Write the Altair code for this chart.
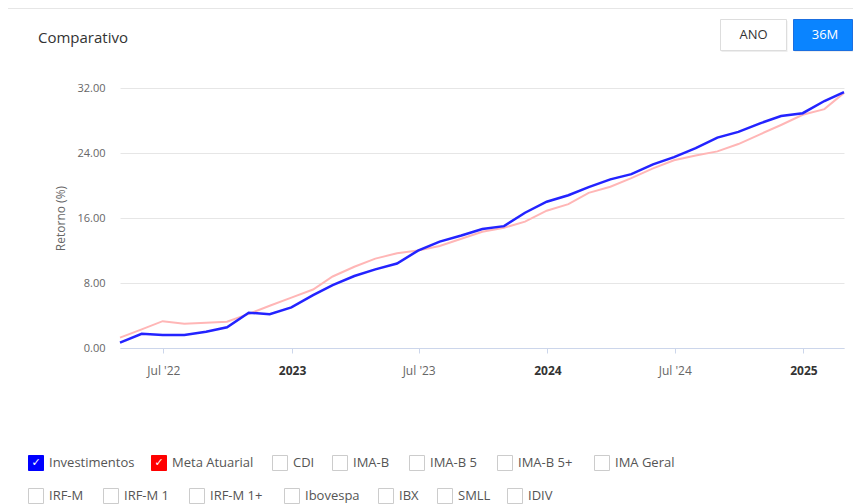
import altair as alt
import pandas as pd

# ---------------- data ----------------
months = pd.date_range("2022-05-01", periods=35, freq="MS") - pd.Timedelta(days=1)

investimentos = [0.65, 1.75, 1.60, 1.60, 2.00, 2.55, 4.35, 4.15, 5.00, 6.50,
                 7.75, 8.86, 9.68, 10.40, 11.98, 13.10, 13.85, 14.65, 15.00, 16.65,
                 18.00, 18.80, 19.80, 20.75, 21.40, 22.60, 23.50, 24.60, 25.90, 26.60,
                 27.65, 28.55, 28.90, 30.40, 31.50]
meta_atuarial = [1.27, 2.30, 3.30, 3.00, 3.10, 3.24, 4.20, 5.20, 6.20, 7.20,
                 8.80, 10.00, 11.00, 11.65, 12.00, 12.55, 13.45, 14.30, 14.80, 15.55,
                 16.90, 17.70, 19.10, 19.85, 20.90, 22.10, 23.10, 23.70, 24.20, 25.10,
                 26.30, 27.45, 28.70, 29.40, 31.40]
y_ticks = [0, 8, 16, 24, 32]
x_ticks = [(2022, 7), (2023, 1), (2023, 7), (2024, 1), (2024, 7), (2025, 1)]
legend_row1 = ["Investimentos", "Meta Atuarial", "CDI", "IMA-B", "IMA-B 5", "IMA-B 5+", "IMA Geral"]
legend_row2 = ["IRF-M", "IRF-M 1", "IRF-M 1+", "Ibovespa", "IBX", "SMLL", "IDIV"]
checked_colors = {"Investimentos": "#0000ff", "Meta Atuarial": "#ff0000"}
buttons = ["ANO", "36M"]
title_text = "Comparativo"

# ---------------- layout (page pixels) ----------------
OX, OY = 120, 88          # page position of plot origin
PW, PH = 724, 260
RIGHT_EDGE = 853
row1_box_x = [28, 151, 272, 332, 409, 497, 594]
row2_box_x = [28, 103, 189, 284, 378, 437, 507]
row_box_top = [455, 488]
BOX = 16
button_x = [(720.5, 786.5), (793.5, 852.5)]
button_cx = [753.5, 825]
button_y = (19.5, 50.5)
button_fill = ["#ffffff", "#0a84ff"]
button_stroke = ["#dddddd", "#1b6fe0"]
button_text = ["#333333", "#ffffff"]

FONT = "Open Sans"

# ---------------- lines ----------------
df = pd.DataFrame({
    "date": list(months) * 2,
    "value": meta_atuarial + investimentos,
    "serie": ["Meta Atuarial"] * len(months) + ["Investimentos"] * len(months),
})

x_axis = alt.Axis(
    values=[alt.DateTime(year=y, month=m, date=1) for y, m in x_ticks],
    labelExpr="month(datum.value) == 0 ? timeFormat(datum.value, '%Y') : "
              "timeFormat(datum.value, '%b') + \" '\" + timeFormat(datum.value, '%y')",
    labelFontWeight={"condition": {"test": "month(datum.value) == 0", "value": "bold"}, "value": "normal"},
    labelColor={"condition": {"test": "month(datum.value) == 0", "value": "#333333"}, "value": "#666666"},
    labelFont=FONT, labelFontSize=12, labelPadding=12,
    domainColor="#ccd6eb", domainWidth=1, tickColor="#ccd6eb", tickSize=5,
    grid=False, labelFlush=False,
)
y_axis = alt.Axis(
    values=y_ticks, format=".2f", labelFont=FONT, labelFontSize=11, labelColor="#666666",
    labelPadding=15, ticks=False, tickSize=0, domain=False,
    gridColor="#e6e6e6", gridWidth=1,
    titleFont=FONT, titleFontSize=12, titleFontWeight="normal", titleColor="#666666", titlePadding=9,
)

x_enc = alt.X("date:T", scale=alt.Scale(nice=False), axis=x_axis, title=None)
y_enc = alt.Y("value:Q", scale=alt.Scale(domain=[0, 32], nice=False), axis=y_axis, title="Retorno (%)")

base = alt.Chart(df)
pink = base.transform_filter(alt.datum.serie == "Meta Atuarial").mark_line(
    color="#ffb6b6", strokeWidth=2).encode(x=x_enc, y=y_enc)
blue = base.transform_filter(alt.datum.serie == "Investimentos").mark_line(
    color="#2323ff", strokeWidth=2.5).encode(x=x_enc, y=y_enc)
lines = alt.layer(pink, blue)

# ---------------- decorations ----------------
def px(field):
    return alt.X(field, type="quantitative", scale=None, axis=None)

def py(field):
    return alt.Y(field, type="quantitative", scale=None, axis=None)

one = alt.Data(values=[{}])

top_line = alt.Chart(one).mark_rule(color="#e6e6e6", strokeWidth=1).encode(
    x=alt.value(8 - OX), x2=alt.value(RIGHT_EDGE - OX), y=alt.value(8.5 - OY))

title = alt.Chart(one).mark_text(
    text=title_text, font=FONT, fontSize=15, color="#333333", align="left", baseline="alphabetic"
).encode(x=alt.value(38 - OX), y=alt.value(43 - OY))

btn_df = pd.DataFrame({
    "label": buttons,
    "x1": [a - OX for a, b in button_x],
    "x2": [b - OX for a, b in button_x],
    "xc": [c - OX for c in button_cx],
    "y1": button_y[0] - OY,
    "y2": button_y[1] - OY,
    "yc": (button_y[0] + button_y[1]) / 2 - OY,
    "fill": button_fill,
    "stroke": button_stroke,
    "tcol": button_text,
})
btn_shadow = alt.Chart(btn_df).mark_rect(fill="#eeeeee").encode(
    x=alt.X("sx1:Q", scale=None, axis=None), x2="sx2:Q",
    y=alt.Y("sy1:Q", scale=None, axis=None), y2="sy2:Q",
).transform_calculate(sx1="datum.x1 + 1", sx2="datum.x2 + 1", sy1="datum.y1 + 1.5", sy2="datum.y2 + 1.5")
btn_rect = alt.Chart(btn_df).mark_rect(strokeWidth=1).encode(
    x=px("x1"), x2="x2", y=py("y1"), y2="y2",
    fill=alt.Fill("fill:N", scale=None), stroke=alt.Stroke("stroke:N", scale=None))
btn_text = alt.Chart(btn_df).mark_text(font=FONT, fontSize=13, baseline="middle", align="center").encode(
    x=px("xc"), y=py("yc"), text="label:N", color=alt.Color("tcol:N", scale=None))

rows = []
for r, (labels, xs) in enumerate([(legend_row1, row1_box_x), (legend_row2, row2_box_x)]):
    for lab, bx in zip(labels, xs):
        top = row_box_top[r]
        col = checked_colors.get(lab)
        rows.append({
            "label": lab,
            "bx1": bx + 0.5 - OX, "bx2": bx + BOX - 0.5 - OX,
            "by1": top + 0.5 - OY, "by2": top + BOX - 0.5 - OY,
            "cx": bx + BOX / 2 - OX, "cy": top + BOX / 2 - OY,
            "tx": bx + 21 - OX,
            "fill": col if col else "#ffffff",
            "stroke": col if col else "#cccccc",
            "check": "\u2713" if col else "",
        })
leg_df = pd.DataFrame(rows)

leg_box = alt.Chart(leg_df).mark_rect(strokeWidth=1).encode(
    x=px("bx1"), x2="bx2", y=py("by1"), y2="by2",
    fill=alt.Fill("fill:N", scale=None), stroke=alt.Stroke("stroke:N", scale=None))
leg_check = alt.Chart(leg_df).mark_text(font="DejaVu Sans", fontSize=11, color="#ffffff",
                                        align="center", baseline="middle").encode(
    x=px("cx"), y=py("cy"), text="check:N")
leg_text = alt.Chart(leg_df).mark_text(font=FONT, fontSize=13, color="#555555",
                                       align="left", baseline="middle").encode(
    x=px("tx"), y=py("cy"), text="label:N")

chart = alt.layer(
    lines, top_line, title, btn_shadow, btn_rect, btn_text, leg_box, leg_check, leg_text
).resolve_scale(x="independent", y="independent").properties(
    width=PW, height=PH,
    padding={"left": OX - 8, "top": OY - 8, "right": RIGHT_EDGE - (OX + PW), "bottom": 504 - (OY + PH)},
    autosize=alt.AutoSizeParams(type="none"),
    background="#ffffff",
).configure_view(stroke=None)

chart.save("out.html", embed_options={"renderer": "svg", "actions": False})
